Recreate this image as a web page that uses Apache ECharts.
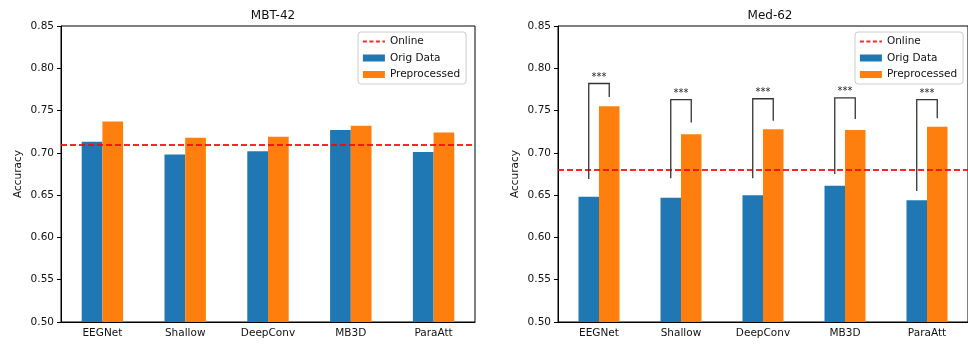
<!DOCTYPE html>
<html>
<head>
<meta charset="utf-8">
<script src="https://cdn.jsdelivr.net/npm/echarts@6/dist/echarts.min.js"></script>
<style>html,body{margin:0;padding:0;background:#fff}#c{width:968px;height:347px}</style>
</head>
<body>
<div id="c"></div>
<script>
const categories = ['EEGNet', 'Shallow', 'DeepConv', 'MB3D', 'ParaAtt'];
const titles = ['MBT-42', 'Med-62'];
const mbtOrig = [0.713, 0.698, 0.702, 0.727, 0.701];
const mbtPre = [0.737, 0.718, 0.719, 0.732, 0.724];
const mbtOnline = 0.709;
const medOrig = [0.648, 0.647, 0.650, 0.661, 0.644];
const medPre = [0.755, 0.722, 0.728, 0.727, 0.731];
const medOnline = 0.682;
// significance brackets (Med-62): left leg bottom, top, right leg bottom
const bracketLeft = [0.669, 0.670, 0.670, 0.675, 0.655];
const bracketTop = [0.782, 0.763, 0.764, 0.765, 0.763];
const bracketRight = [0.766, 0.736, 0.738, 0.740, 0.741];
const bracketLabel = '***';
const yTicks = [0.50, 0.55, 0.60, 0.65, 0.70, 0.75, 0.80, 0.85];

const FONT = 'DejaVu Sans';
const BLUE = '#1f77b4', ORANGE = '#ff7f0e', RED = 'rgba(255,0,0,0.85)';

const chart = echarts.init(document.getElementById('c'), null, {renderer: 'canvas'});

function xAxis(gi) {
  return {
    type: 'category', gridIndex: gi, data: categories,
    axisLine: {lineStyle: {color: '#000', width: 1}},
    axisTick: {alignWithLabel: true, length: 4, lineStyle: {color: '#000'}},
    axisLabel: {color: '#111', fontFamily: FONT, fontSize: 10.5, margin: 6},
    splitLine: {show: false}
  };
}
function yAxis(gi) {
  return {
    type: 'value', gridIndex: gi, min: 0.5, max: 0.85, interval: 0.05,
    name: 'Accuracy', nameLocation: 'middle', nameGap: 37,
    nameTextStyle: {color: '#111', fontFamily: FONT, fontSize: 10.5},
    axisLine: {show: true, lineStyle: {color: '#000', width: 1}},
    axisTick: {show: true, length: 4, lineStyle: {color: '#000'}},
    axisLabel: {color: '#111', fontFamily: FONT, fontSize: 10.5, margin: 7,
      formatter: v => yTicks.find(t => Math.abs(t - v) < 1e-6).toFixed(2)},
    splitLine: {show: false}
  };
}
function series(gi, orig, pre, online) {
  return [
    {name: 'Online', type: 'line', xAxisIndex: gi, yAxisIndex: gi, data: [],
      symbol: 'none', itemStyle: {color: RED},
      lineStyle: {color: RED, type: [6, 3], width: 1.8},
      markLine: {silent: true, symbol: 'none', label: {show: false},
        lineStyle: {color: RED, type: [6, 3], width: 1.8},
        data: [{yAxis: online}]}},
    {name: 'Orig Data', type: 'bar', xAxisIndex: gi, yAxisIndex: gi, data: orig,
      barCategoryGap: '50%', barGap: '0%', itemStyle: {color: BLUE}},
    {name: 'Preprocessed', type: 'bar', xAxisIndex: gi, yAxisIndex: gi, data: pre,
      barCategoryGap: '50%', barGap: '0%', itemStyle: {color: ORANGE}}
  ];
}
function legend(left) {
  return {
    orient: 'vertical', left: left, top: 32, itemWidth: 22, itemHeight: 7, itemGap: 3.5,
    padding: [3, 6, 3, 4], borderColor: '#ccc', borderWidth: 1, borderRadius: 3,
    backgroundColor: 'rgba(255,255,255,0.9)',
    textStyle: {color: '#111', fontFamily: FONT, fontSize: 10.5, lineHeight: 13},
    data: [
      {name: 'Online', itemStyle: {color: 'rgba(0,0,0,0)', borderColor: 'rgba(0,0,0,0)', borderWidth: 0, opacity: 0},
        lineStyle: {color: RED, type: [4, 2.5], width: 1.8}},
      {name: 'Orig Data', icon: 'rect'},
      {name: 'Preprocessed', icon: 'rect'}
    ],
    selectedMode: false
  };
}

const bracketData = categories.map((c, i) => [i, bracketLeft[i], bracketTop[i], bracketRight[i]]);

const option = {
  animation: false,
  title: [
    {text: titles[0], left: 268, top: 5, textAlign: 'center',
      textStyle: {fontFamily: FONT, fontSize: 12, fontWeight: 'normal', color: '#111'}},
    {text: titles[1], left: 765, top: 5, textAlign: 'center',
      textStyle: {fontFamily: FONT, fontSize: 12, fontWeight: 'normal', color: '#111'}}
  ],
  grid: [
    {left: 61, top: 26, width: 414, height: 296, show: true, borderColor: '#000', borderWidth: 1, backgroundColor: 'transparent'},
    {left: 558, top: 26, width: 414, height: 296, show: true, borderColor: '#000', borderWidth: 1, backgroundColor: 'transparent'}
  ],
  legend: [legend(358), legend(855)],
  xAxis: [xAxis(0), xAxis(1)],
  yAxis: [yAxis(0), yAxis(1)],
  series: [
    ...series(0, mbtOrig, mbtPre, mbtOnline),
    ...series(1, medOrig, medPre, medOnline),
    {type: 'custom', xAxisIndex: 1, yAxisIndex: 1, data: bracketData, silent: true, z: 5,
      encode: {x: 0, y: 2},
      renderItem: function (params, api) {
        const ci = api.value(0);
        const top = api.coord([ci, api.value(2)]);
        const band = api.size([1, 0])[0];
        const off = band * 0.125;
        const xl = top[0] - off, xr = top[0] + off;
        const yl = api.coord([ci, api.value(1)])[1];
        const yr = api.coord([ci, api.value(3)])[1];
        const yt = top[1];
        return {type: 'group', children: [
          {type: 'polyline', shape: {points: [[xl, yl], [xl, yt], [xr, yt], [xr, yr]]},
            style: {stroke: '#333', lineWidth: 1.3, fill: null}},
          {type: 'text', x: top[0], y: yt - 1,
            style: {text: bracketLabel, fill: '#222', font: '10px ' + FONT,
              textAlign: 'center', textVerticalAlign: 'bottom'}}
        ]};
      }}
  ]
};
chart.setOption(option);
</script>
</body>
</html>
